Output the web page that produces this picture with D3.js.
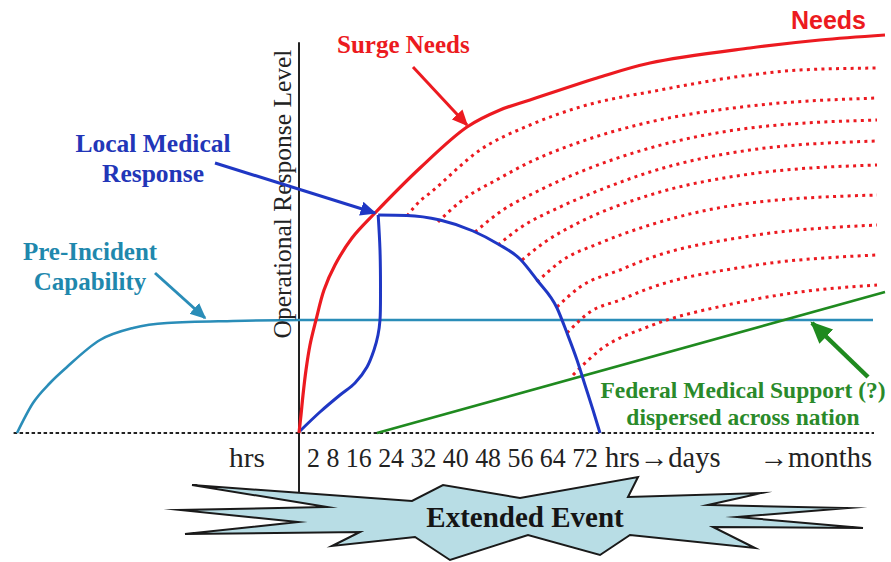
<!DOCTYPE html>
<html><head><meta charset="utf-8">
<script src="https://cdn.jsdelivr.net/npm/d3@7"></script>
<style>
html,body{margin:0;padding:0;background:#fff;}
svg{display:block;}
</style></head><body>
<svg id="chart" width="891" height="562"></svg>
<script>
// ---- data (x = hours after incident, y = operational response level 0-100) ----
const needs = [[0,0],[0.48,4.5],[0.96,9.5],[1.68,15.75],[2.64,22],[4.08,28.25],[6,35.75],[8.64,42],[12.72,48.75],[18.24,55],[29.04,66.25],[40.32,76.5],[48.24,80.75],[55.44,83.25],[71.52,88.75],[84.24,92.5],[108.24,96.25],[125.04,98.25],[140.64,99.5]];
const localRise = [[0.24,0.5],[5.04,5.25],[9.84,9.5],[13.44,12.5],[16.32,16.5],[18,20.75],[18.96,24.5],[19.44,28.25],[19.56,35.75],[19.44,45.75],[19.0,54.5]];
const localDecline = [[19.0,54.5],[25.92,54.4],[33.84,53.25],[41.76,50.5],[47.76,47.25],[53.04,43.5],[57.12,38.25],[61.92,31.25],[64.32,25],[66.72,18.25],[68.64,12],[70.56,5.75],[72.24,0]];
const preIncident = [[-67.68,0],[-63.84,7.5],[-59.76,12.5],[-55.68,16.5],[-47.76,23.25],[-39.84,26.25],[-31.68,27.5],[-15.84,28],[0.24,28.25],[137.76,28.25]];
const federalSupport = [[18.72,0],[140.64,35.25]];
const shortfall1 = [[25.92,54.25],[29.04,58],[31.44,60],[43.44,70.75],[55.44,77],[67.44,81.5],[86.64,85.75],[108.24,89.5],[120.24,90.75],[138.72,91.25]];
const shortfall2 = [[33.36,52.75],[38.64,57.75],[48.24,63.75],[55.44,67.75],[67.44,72.75],[84.24,77.75],[108.24,81.75],[138.72,83.75]];
const shortfall3 = [[42.24,50.25],[48.24,55.25],[57.84,60.75],[67.44,65.25],[84.24,71.25],[108.24,76.25],[138.72,78.25]];
const shortfall4 = [[47.76,47],[53.04,51.25],[62.64,56.5],[72.24,60.75],[84.24,65.25],[108.24,70.75],[138.72,73]];
const shortfall5 = [[53.52,43.25],[59.04,47.75],[67.44,52.75],[84.24,59.5],[108.24,64.75],[138.72,67]];
const shortfall6 = [[57.12,37.75],[62.64,42.75],[72.24,47.5],[84.24,52],[108.24,57.5],[138.72,59.5]];
const shortfall7 = [[61.92,31.5],[67.44,36.5],[77.04,40.75],[84.24,43.75],[108.24,49.25],[138.72,52]];
const shortfall8 = [[64.32,25],[69.84,30.25],[77.04,33.25],[84.24,36.25],[108.24,41.75],[138.72,44.5]];
const shortfall9 = [[65.76,14.5],[72.24,20.75],[84.24,26.75],[102.72,32],[120.24,35.25],[138.72,37]];
const shortfalls = [shortfall1,shortfall2,shortfall3,shortfall4,shortfall5,shortfall6,shortfall7,shortfall8,shortfall9];
const tickLabels = ["2","8","16","24","32","40","48","56","64","72"];
const unitLabels = ["hrs\u2192days", "\u2192months"];
const preAxisLabel = "hrs";
const yAxisTitle = "Operational Response Level";

// ---- layout ----
const svg = d3.select("#chart");
const x = d3.scaleLinear().domain([0, 72]).range([299, 599]);
const y = d3.scaleLinear().domain([0, 100]).range([433, 33]);

const RED = "#ec1a20", BLUE = "#1f37c4", TEAL = "#2a8db8", GREEN = "#1f8a1f";
const SERIF = "'Liberation Serif','Times New Roman',serif";
const SANS = "'Liberation Sans',Arial,sans-serif";

// markers
const defs = svg.append("defs");
function marker(id, color, size) {
  defs.append("marker").attr("id", id)
    .attr("viewBox", "0 0 10 10").attr("refX", 9).attr("refY", 5)
    .attr("markerUnits", "userSpaceOnUse")
    .attr("markerWidth", size).attr("markerHeight", size)
    .attr("orient", "auto")
    .append("path").attr("d", "M0,0.5 L10,5 L0,9.5 Z").attr("fill", color);
}
marker("arRed", RED, 16);
marker("arBlue", BLUE, 16);
marker("arTeal", TEAL, 16);
marker("arGreen", GREEN, 22);

// burst "Extended Event" (decorative shape, around its centre)
const bc = [525, 517];
const burstShape = [[-333,-32],[-113,-16],[-82,-32],[-5,-19],[113,-40],[103,-20],[237,-24],[183,-12],[323,-9],[212,0],[338,11],[188,10],[230,31],[105,18],[75,38],[3,18],[-75,43],[-110,20],[-193,29],[-165,15],[-340,17],[-227,5],[-345,-7],[-198,-10]];

// baseline (dashed)
svg.append("line")
  .attr("x1", x(-68.5)).attr("x2", x(138)).attr("y1", y(0)).attr("y2", y(0))
  .attr("stroke", "#222").attr("stroke-width", 1.8).attr("stroke-dasharray", "3.5,2.5");

// vertical axis
svg.append("line")
  .attr("x1", x(0)).attr("x2", x(0)).attr("y1", y(97.7)).attr("y2", 495)
  .attr("stroke", "#222").attr("stroke-width", 2);

// burst
svg.append("path")
  .attr("d", "M" + burstShape.map(p => [bc[0] + p[0], bc[1] + p[1]].join(",")).join("L") + "Z")
  .attr("fill", "#b8dde5").attr("stroke", "#1a1a1a").attr("stroke-width", 2).attr("stroke-linejoin", "miter").attr("stroke-miterlimit", 20);
svg.append("text").attr("x", bc[0]).attr("y", 527).attr("text-anchor", "middle")
  .attr("font-family", SERIF).attr("font-weight", "bold").attr("font-size", 29).attr("fill", "#151515")
  .text("Extended Event");

const lineMono = d3.line().x(d => x(d[0])).y(d => y(d[1])).curve(d3.curveMonotoneX);
const lineCR = d3.line().x(d => x(d[0])).y(d => y(d[1])).curve(d3.curveCatmullRom.alpha(0.5));

// pre-incident capability
svg.append("path").attr("d", lineMono(preIncident)).attr("fill", "none")
  .attr("stroke", TEAL).attr("stroke-width", 2.6);

// federal medical support
svg.append("path").attr("d", lineMono(federalSupport)).attr("fill", "none")
  .attr("stroke", GREEN).attr("stroke-width", 2.6);

// dotted shortfall curves
svg.append("g").selectAll("path").data(shortfalls).join("path")
  .attr("d", d => lineMono(d)).attr("fill", "none")
  .attr("stroke", RED).attr("stroke-width", 3).attr("stroke-dasharray", "3,4.3");

// local medical response (rise, then decline)
svg.append("path").attr("d", lineCR(localRise)).attr("fill", "none")
  .attr("stroke", BLUE).attr("stroke-width", 3).attr("stroke-linejoin", "round");
svg.append("path").attr("d", lineMono(localDecline)).attr("fill", "none")
  .attr("stroke", BLUE).attr("stroke-width", 3).attr("stroke-linejoin", "round");

// needs
svg.append("path").attr("d", lineCR(needs)).attr("fill", "none")
  .attr("stroke", RED).attr("stroke-width", 3.2);

// ---- axis texts ----
svg.append("text")
  .attr("transform", `translate(${x(0) - 8},194) rotate(-90)`)
  .attr("text-anchor", "middle").attr("font-family", SERIF).attr("font-size", 25.5).attr("fill", "#222")
  .text(yAxisTitle);

svg.append("text").attr("x", 229).attr("y", 467)
  .attr("font-family", SERIF).attr("font-size", 27).attr("fill", "#222")
  .attr("textLength", 36).attr("lengthAdjust", "spacingAndGlyphs").text(preAxisLabel);

svg.append("text").attr("x", 307).attr("y", 467)
  .attr("font-family", SERIF).attr("font-size", 26.5).attr("fill", "#222")
  .attr("textLength", 291).attr("lengthAdjust", "spacingAndGlyphs")
  .text(tickLabels.join(" "));

const unitPos = [[605, "start"], [872, "end"]];
svg.append("g").selectAll("text").data(unitLabels).join("text")
  .attr("x", (d, i) => unitPos[i][0]).attr("y", 467)
  .attr("text-anchor", (d, i) => unitPos[i][1])
  .attr("font-family", SERIF).attr("font-size", 28.5).attr("fill", "#222")
  .text(d => d);

// ---- annotations ----
function label(lines, px, py, anchor, family, size, color, lh) {
  const t = svg.append("text").attr("text-anchor", anchor)
    .attr("font-family", family).attr("font-weight", "bold").attr("font-size", size).attr("fill", color);
  lines.forEach((s, i) => t.append("tspan").attr("x", px).attr("y", py + i * lh).text(s));
}
label(["Needs"], 866, 29, "end", SANS, 25, RED, 0);
label(["Surge Needs"], 337, 53, "start", SERIF, 25, RED, 0);
label(["Local Medical", "Response"], 153, 152, "middle", SERIF, 25.5, "#2236b8", 30);
label(["Pre-Incident", "Capability"], 90, 260, "middle", SERIF, 25, "#1f88ad", 30);
label(["Federal Medical Support (?)", "dispersed across nation"], 743, 398, "middle", SERIF, 23.5, "#2a8a2a", 27);

function arrow(a, b, color, w, m) {
  svg.append("line").attr("x1", x(a[0])).attr("y1", y(a[1])).attr("x2", x(b[0])).attr("y2", y(b[1]))
    .attr("stroke", color).attr("stroke-width", w).attr("marker-end", `url(#${m})`);
}
arrow([27.36, 91.5], [40.32, 77], RED, 3, "arRed");
arrow([-20.16, 67.5], [18.24, 55], BLUE, 3, "arBlue");
arrow([-34.56, 40], [-22.56, 28.75], TEAL, 3, "arTeal");
arrow([136.56, 14], [123.12, 27.5], GREEN, 4.5, "arGreen");
</script>
</body></html>
